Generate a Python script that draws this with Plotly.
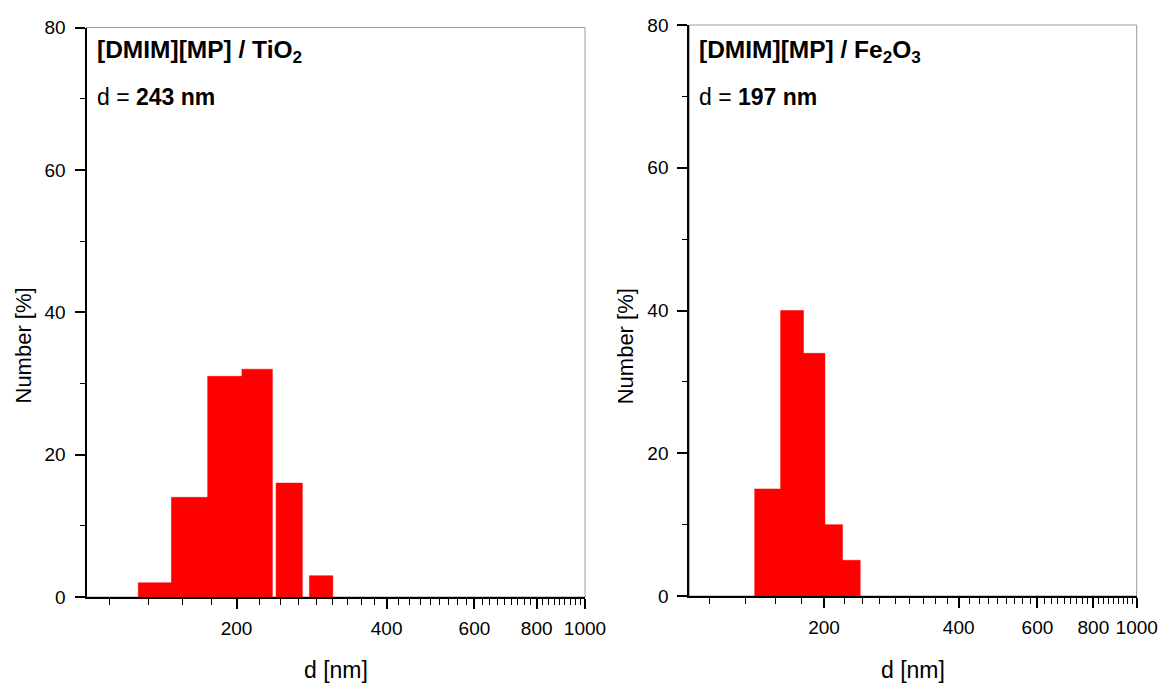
import plotly.graph_objects as go

# ---- data ----
# TiO2 panel: bin edges (nm) and Number (%)
tio2_left = [127, 148, 175, 205, 240, 280]
tio2_right = [148, 175, 205, 236, 271, 312]
tio2_number = [2, 14, 31, 32, 16, 3]

# Fe2O3 panel
fe2o3_left = [140, 160, 180, 201, 220]
fe2o3_right = [160, 180, 201, 220, 241]
fe2o3_number = [15, 40, 34, 10, 5]

x_tickvals = [200, 400, 600, 800, 1000]
x_ticktext = ["200", "400", "600", "800", "1000"]
y_tickvals = [0, 20, 40, 60, 80]
y_minor = [10, 30, 50, 70]

titles = ["[DMIM][MP] / TiO<sub>2</sub>", "[DMIM][MP] / Fe<sub>2</sub>O<sub>3</sub>"]
d_labels = ["243 nm", "197 nm"]

# minor ticks: 8 between consecutive majors (step 200/9), within 100..1000
step = 200 / 9
x_minor = [200 + k * step for k in range(-4, 37) if k % 9 != 0 and 100 < 200 + k * step < 1000]

W, H = 1159, 684
FONT = "Liberation Sans, Arial, sans-serif"
RED = "#ff0000"


def bars_xy(lefts, rights, heights):
    xs, ys = [], []
    for l, r, h in zip(lefts, rights, heights):
        xs += [l, l, r, r, l, None]
        ys += [0, h, h, 0, 0, None]
    return xs, ys


fig = go.Figure()
for i, (L, R, N) in enumerate([(tio2_left, tio2_right, tio2_number),
                               (fe2o3_left, fe2o3_right, fe2o3_number)]):
    xs, ys = bars_xy(L, R, N)
    sfx = "" if i == 0 else "2"
    fig.add_trace(go.Scatter(x=xs, y=ys, fill="toself", fillcolor=RED,
                             mode="lines", line=dict(color=RED, width=0.5),
                             xaxis="x" + sfx, yaxis="y" + sfx,
                             showlegend=False, hoverinfo="skip"))

# panel geometry in pixels
panels = [
    dict(x0=86.5, x1=585, ytop=27.5, ybot=597),
    dict(x0=689.3, x1=1136.7, ytop=25, ybot=596),
]

axis_common_x = dict(
    type="log", range=[2, 3], tickmode="array", tickvals=x_tickvals, ticktext=x_ticktext,
    ticks="outside", ticklen=10, tickwidth=1.5, tickcolor="black",
    showline=True, linecolor="black", linewidth=2, showgrid=False, zeroline=False,
    tickfont=dict(family=FONT, size=19, color="black"), automargin=False,
    ticklabelstandoff=3,
    minor=dict(tickmode="array", tickvals=x_minor, ticks="outside", ticklen=6,
               tickwidth=1.2, tickcolor="black", showgrid=False),
)
axis_common_y = dict(
    range=[0, 80], tickmode="array", tickvals=y_tickvals,
    ticks="outside", ticklen=10, tickwidth=1.5, tickcolor="black",
    showline=True, linecolor="black", linewidth=2, showgrid=False, zeroline=False,
    tickfont=dict(family=FONT, size=19, color="black"), automargin=False,
    ticklabelstandoff=5,
    minor=dict(tickmode="array", tickvals=y_minor, ticks="outside", ticklen=5,
               tickwidth=1.2, tickcolor="black", showgrid=False),
)

layout = dict(width=W, height=H, margin=dict(l=0, r=0, t=0, b=0),
              paper_bgcolor="white", plot_bgcolor="white",
              font=dict(family=FONT, color="black"))
shapes, annotations = [], []
for i, p in enumerate(panels):
    sfx = "" if i == 0 else "2"
    xd = [p["x0"] / W, p["x1"] / W]
    yd = [1 - p["ybot"] / H, 1 - p["ytop"] / H]
    layout["xaxis" + sfx] = dict(axis_common_x, domain=xd, anchor="y" + sfx)
    layout["yaxis" + sfx] = dict(axis_common_y, domain=yd, anchor="x" + sfx)
    xr = "x" + sfx + " domain"
    yr = "y" + sfx + " domain"
    shapes.append(dict(type="rect", xref=xr, yref=yr, x0=0, x1=1, y0=0, y1=1,
                       line=dict(color="#9a9a9a", width=1), layer="below"))
    tx = (p["x0"] + 8) / W
    annotations.append(dict(text="<b>" + titles[i] + "</b>", xref="paper", yref="paper",
                            x=tx, y=1 - 51 / H, xanchor="left", yanchor="middle",
                            showarrow=False, font=dict(family=FONT, size=24.5, color="black")))
    annotations.append(dict(text="d = <b>" + d_labels[i] + "</b>", xref="paper", yref="paper",
                            x=tx, y=1 - 97 / H, xanchor="left", yanchor="middle",
                            showarrow=False, font=dict(family=FONT, size=23, color="black")))
    # axis titles
    annotations.append(dict(text="d [nm]", xref="paper", yref="paper",
                            x=(p["x0"] + p["x1"]) / 2 / W, y=1 - 670 / H,
                            xanchor="center", yanchor="middle", showarrow=False,
                            font=dict(family=FONT, size=23, color="black")))
    annotations.append(dict(text="Number [%]", xref="paper", yref="paper",
                            x=(p["x0"] - 64) / W, y=1 - 346 / H, textangle=-90,
                            xanchor="center", yanchor="middle", showarrow=False,
                            font=dict(family=FONT, size=22, color="black")))

layout["shapes"] = shapes
layout["annotations"] = annotations
fig.update_layout(**layout)
fig.write_html("out.html", config={"displayModeBar": False},
               post_script="document.body.style.margin='0';document.body.style.overflow='hidden';")
